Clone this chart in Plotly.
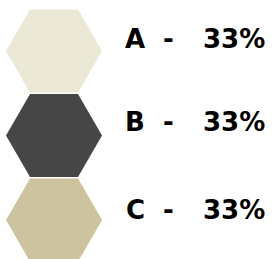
import plotly.graph_objects as go

categories = ["A", "B", "C"]
values = [33, 33, 33]
colors = ["#EBE8D6", "#464646", "#CDC39E"]

label_shift_px = [12, 14, 10]  # label offset above each hexagon centre
part_xshift_px = [-57, -24, 42]  # letter, dash, percentage offsets

idx = list(range(len(categories)))

fig = go.Figure()
fig.add_trace(go.Scatter(
    x=[0] * len(categories), y=idx, mode="markers",
    marker=dict(symbol="hexagon2", size=96, color=colors, line=dict(width=0)),
    hoverinfo="skip", showlegend=False,
))
font = dict(family="DejaVu Sans", size=26, color="#000000", weight="bold")
for i, (c, v) in enumerate(zip(categories, values)):
    for part, xs in zip([c, "-", f"{v}%"], part_xshift_px):
        fig.add_annotation(
            x=1, y=idx[i], text=part, showarrow=False, xanchor="center", yanchor="middle",
            xshift=xs, yshift=label_shift_px[i], font=font,
        )
fig.update_layout(
    width=276, height=259, margin=dict(l=0, r=0, t=0, b=0),
    paper_bgcolor="white", plot_bgcolor="white",
    xaxis=dict(range=[-0.39, 1.603], visible=False, fixedrange=True),
    yaxis=dict(range=[2.4615, -0.6036], visible=False, fixedrange=True),
)
fig.write_html("out.html", config={"displayModeBar": False, "staticPlot": True},
               post_script="document.body.style.margin='0';document.body.style.overflow='hidden';")
